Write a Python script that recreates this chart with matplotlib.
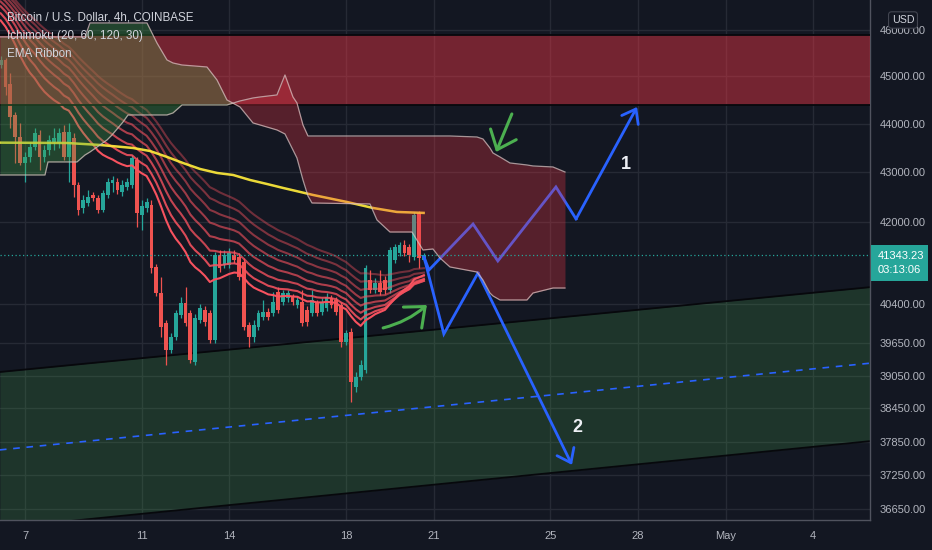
import numpy as np
import pandas as pd
import matplotlib
matplotlib.use("Agg")
import matplotlib.pyplot as plt
import matplotlib.ticker as mticker
from matplotlib import font_manager
from matplotlib.patches import Rectangle

# ---------------- fonts ----------------
_names = {f.name for f in font_manager.fontManager.ttflist}
NARROW = "Liberation Sans Narrow" in _names
UI_FONT = "Liberation Sans Narrow" if NARROW else "Liberation Sans"
FS = 9.5 if NARROW else 8.0
FS_LEG = 10.0 if NARROW else 8.4
plt.rcParams["font.family"] = [UI_FONT, "DejaVu Sans"]

# ---------------- data ----------------
candle_times = pd.date_range("2022-04-06 04:00", periods=88, freq="4h")
origin = pd.Timestamp("2022-04-07 00:00")

opens = [45244, 45352, 44840, 44185, 43726, 43191, 43314, 43520, 43768, 43314,
         43458, 43623, 43602, 43830, 43314, 43706, 42743, 42280, 42380, 42541,
         42480, 42240, 42541, 42783, 42804, 42602, 42703, 42743, 43252, 42140,
         42280, 42340, 41114, 40611, 40037, 39528, 39772, 40189, 40418, 40227,
         39304, 40094, 40284, 40227, 39716, 41348, 41153, 41153, 41348, 41309,
         41211, 39999, 39772, 39961, 40151, 40246, 40227, 40630, 40437, 40514,
         40534, 40380, 40437, 40284, 40227, 40418, 40246, 40322, 40514, 40476,
         40380, 39678, 39867, 38841, 39026, 39155, 40861, 40668, 40803, 40861,
         40668, 41250, 41387, 41545, 41505, 41309, 42180, 41250]
highs = [45440, 45395, 45073, 44248, 44018, 43417, 43623, 43914, 43872, 43561,
         43768, 43914, 43914, 43976, 44018, 43810, 42804, 42541, 42642, 42602,
         42541, 42642, 42885, 42926, 42885, 42844, 42885, 43355, 43314, 42440,
         42481, 42440, 41172, 40919, 40094, 39848, 40284, 40534, 40726, 40284,
         40208, 40399, 40360, 40284, 41407, 41446, 41446, 41486, 41446, 41387,
         41289, 40056, 40094, 40284, 40476, 40322, 40630, 40726, 40668, 40668,
         40591, 40553, 40668, 40360, 40668, 40476, 40514, 40611, 40572, 40534,
         40437, 39905, 39943, 39118, 39341, 41153, 41055, 40900, 41055, 40938,
         41505, 41564, 41604, 41643, 41564, 42200, 42220, 41387]
lows = [45180, 44606, 43914, 43191, 43150, 42803, 43211, 43458, 43048, 43211,
        43355, 43458, 43499, 43252, 42803, 42501, 42140, 42180, 42320, 42420,
        42180, 42200, 42480, 42602, 42561, 42521, 42642, 42683, 41900, 41841,
        42200, 40997, 40553, 39772, 39248, 39472, 39716, 40132, 39980, 39285,
        39248, 40037, 39980, 39659, 39659, 41016, 41094, 41094, 41192, 40861,
        39905, 39584, 39678, 39905, 40094, 40094, 40170, 40227, 40380, 40437,
        40380, 40322, 39980, 39980, 40170, 40170, 40189, 40265, 40322, 40189,
        39584, 39622, 38566, 38749, 38970, 39100, 40611, 40611, 40572, 40591,
        40611, 41192, 41328, 41328, 41211, 41250, 41094, 41211]
closes = [45352, 44776, 44143, 43726, 43191, 43314, 43520, 43810, 43314, 43458,
          43664, 43706, 43810, 43314, 43830, 42743, 42240, 42440, 42501, 42480,
          42240, 42581, 42804, 42844, 42642, 42743, 42804, 43293, 42180, 42320,
          42400, 41094, 40611, 39961, 39528, 39772, 40227, 40418, 40037, 39341,
          40132, 40322, 40056, 39716, 41348, 41094, 41348, 41387, 41250, 40919,
          39961, 39772, 39999, 40227, 40246, 40151, 40437, 40284, 40611, 40611,
          40437, 40476, 40037, 40056, 40476, 40227, 40418, 40534, 40380, 40246,
          39678, 39848, 38933, 39026, 39248, 41094, 40668, 40803, 40630, 40668,
          41446, 41505, 41545, 41387, 41348, 42140, 41289, 41343.23]

# EMA ribbon: periods and their values at the left edge of the view
ribbon_periods = [20, 25, 30, 35, 40, 45, 50, 55]
ribbon_start = [46300, 46450, 46600, 46700, 46800, 46880, 46950, 47000]

# slow yellow average, days since Apr 7
yellow_days = [-0.86, 1.44, 2.57, 3.70, 4.28, 4.87, 5.41, 6.00, 6.58, 7.13,
               7.71, 8.29, 8.84, 9.87, 11.03, 11.92, 12.74, 13.70]
yellow_vals = [43609, 43602, 43561, 43499, 43437, 43314, 43191, 43068, 42987, 42946,
               42844, 42763, 42683, 42541, 42400, 42280, 42200, 42180]

# Ichimoku leading spans (days since Apr 7)
cloud_days = [-0.856, 0.685, 0.788, 1.781, 2.056, 2.227, 2.809, 2.980, 3.357, 3.529,
              4.180, 4.522, 4.865, 5.070, 5.379, 6.235, 6.578, 6.920, 7.366, 7.811,
              8.051, 8.633, 8.907, 9.181, 9.318, 9.524, 9.695, 9.832, 11.819, 12.059,
              12.504, 13.258, 13.635, 13.977, 14.217, 14.560, 15.485, 15.690, 15.930, 16.033,
              16.273, 16.615, 17.198, 17.404, 18.089, 18.500]
lead_a = [45850, 45850, 45850, 45850, 45850, 46154, 46154, 46154, 46154, 46154,
          46154, 45718, 45352, 45287, 45244, 45201, 44924, 44500, 44353, 44018,
          43976, 43872, 43789, 43458, 43293, 42844, 42521, 42380, 42360, 42040,
          41801, 41801, 41446, 41466, 41289, 41114, 41016, 40861, 40610, 40553,
          40476, 40476, 40476, 40610, 40706, 40706]
lead_b = [42946, 42946, 43212, 43212, 43355, 43417, 43664, 43768, 44038, 44185,
          44185, 44185, 44185, 44227, 44395, 44395, 44395, 44395, 44479, 44542,
          44563, 44606, 45030, 44563, 44437, 43976, 43747, 43747, 43747, 43747,
          43747, 43747, 43747, 43747, 43747, 43747, 43726, 43685, 43499, 43396,
          43314, 43191, 43150, 43130, 43109, 43007]

# resistance zone (price range)
zone_low, zone_high = 44400, 45900

# parallel channel
chan_days = [-0.86, 29.02]
chan_upper = [39118, 40726]
chan_mid = [37700, 39285]
chan_lower = [36330, 37860]

# projected paths
path1_days = [13.67, 13.84, 15.35, 16.20, 18.19, 18.88, 20.97]
path1_vals = [41309, 41055, 41960, 41231, 42703, 42060, 44353]
path2_days = [13.67, 14.35, 15.52, 18.74]
path2_vals = [41309, 39829, 40997, 37433]

# hand-drawn green arrows: (from, to)
arrowA = ((16.68, 44206), (16.14, 43417))
arrowB = ((12.27, 39943), (13.77, 40380))

label_pts = {"1": (20.59, 43150), "2": (18.91, 38095)}

last_price = 41343.23
countdown = "03:13:06"

price_ticks = [46000, 45000, 44000, 43000, 42000, 40400, 39650, 39050, 38450, 37850, 37250, 36650]
date_ticks = [0, 4, 7, 11, 14, 18, 21, 24, 27]
date_labels = ["7", "11", "14", "18", "21", "25", "28", "May", "4"]

# ---------------- style ----------------
BG = "#131722"
GRID = "#262a35"
TXT = "#b2b5be"
UP = "#26a69a"
DN = "#ef5350"
BLUE = "#2962ff"
GREEN_ARROW = "#4caf50"

W, H = 932, 550
fig = plt.figure(figsize=(W / 100, H / 100), dpi=100, facecolor=BG)
ax = fig.add_axes([0, 30 / H, 870 / W, 520 / H])
ax.set_facecolor(BG)
ax.set_yscale("log")
ax.set_ylim(36468, 46659)
ax.set_xlim(-0.856, 28.95)

ax.yaxis.tick_right()
ax.set_yticks(price_ticks)
ax.set_yticklabels([f"{v:.2f}" for v in price_ticks])
ax.yaxis.set_minor_locator(mticker.NullLocator())
ax.yaxis.set_minor_formatter(mticker.NullFormatter())
ax.set_xticks(date_ticks)
ax.set_xticklabels(date_labels)
ax.tick_params(axis="both", length=0, labelcolor=TXT, labelsize=FS)
ax.tick_params(axis="y", pad=7)
ax.tick_params(axis="x", pad=8)
ax.grid(True, color=GRID, lw=1)
ax.set_axisbelow(True)
for s in ["top", "left"]:
    ax.spines[s].set_visible(False)
for s in ["right", "bottom"]:
    ax.spines[s].set_color("#50535e")
    ax.spines[s].set_linewidth(1)

# channel
ax.fill_between(chan_days, chan_lower, chan_upper, color="#4caf50", alpha=0.2, lw=0, zorder=1)
ax.plot(chan_days, chan_upper, color="#07080c", lw=1.3, zorder=1.2)
ax.plot(chan_days, chan_lower, color="#07080c", lw=1.3, zorder=1.2)
ax.plot(chan_days, chan_mid, color=BLUE, lw=1.2, ls=(0, (4, 4)), zorder=1.2)

# candles
cx = ((candle_times - origin) / pd.Timedelta(days=1)).values.astype(float)
o = np.array(opens, float); c = np.array(closes, float)
hi = np.array(highs, float); lo = np.array(lows, float)
col = np.where(c >= o, UP, DN)
ax.vlines(cx, lo, hi, colors=col, lw=0.9, zorder=2)
bb = np.minimum(o, c); bt = np.maximum(o, c)
ax.bar(cx, bt - bb, bottom=bb, width=0.13, color=col, lw=0, zorder=2.05)

# EMA ribbon
alphas = [1.0, 0.88, 0.78, 0.68, 0.6, 0.52, 0.46, 0.4]
for n, s0, al in zip(ribbon_periods, ribbon_start, alphas):
    k = 2.0 / (n + 1)
    e = s0
    vals = []
    for v in closes:
        e = e + k * (v - e)
        vals.append(e)
    ax.plot(cx, vals, color="#f7525f", alpha=al, lw=1.5, zorder=2.5)

# yellow average
ax.plot(yellow_days, yellow_vals, color="#ffeb3b", lw=1.8, alpha=0.92, zorder=2.6,
        solid_capstyle="butt")

# projected blue paths (under the cloud so they tint purple inside it)
for pd_, pv_ in ((path1_days, path1_vals), (path2_days, path2_vals)):
    ax.plot(pd_[:-1], pv_[:-1], color=BLUE, lw=2, zorder=2.7, solid_joinstyle="miter")
    ax.annotate("", xy=(pd_[-1], pv_[-1]), xytext=(pd_[-2], pv_[-2]),
                arrowprops=dict(arrowstyle="->,head_length=0.6,head_width=0.45", color=BLUE, lw=2,
                                shrinkA=0, shrinkB=0, mutation_scale=15), zorder=2.7)

# resistance zone
ax.axhspan(zone_low, zone_high, color="#f23645", alpha=0.44, lw=0, zorder=3)
ax.axhline(zone_low, color="#07080c", lw=1.3, zorder=3.1)
ax.axhline(zone_high, color="#07080c", lw=1.3, zorder=3.1)

# ichimoku cloud
la = np.array(lead_a, float); lb = np.array(lead_b, float)
ax.fill_between(cloud_days, la, lb, where=la >= lb, interpolate=True, color="#43a047",
                alpha=0.33, lw=0, zorder=4)
ax.fill_between(cloud_days, la, lb, where=la < lb, interpolate=True, color="#f23645",
                alpha=0.30, lw=0, zorder=4)
ax.plot(cloud_days, lead_a, color="#d8c0c0", lw=0.9, alpha=0.75, zorder=4.1)
ax.plot(cloud_days, lead_b, color="#d8c0c0", lw=0.9, alpha=0.75, zorder=4.1)

# last price line
ax.axhline(last_price, color=UP, lw=0.9, ls=(0, (1, 2)), zorder=4.5)

# green arrows
for (p0, p1), rad in ((arrowA, 0.0), (arrowB, 0.12)):
    ax.annotate("", xy=p1, xytext=p0,
                arrowprops=dict(arrowstyle="->,head_length=0.6,head_width=0.5", color=GREEN_ARROW,
                                lw=2.2, shrinkA=0, shrinkB=0, mutation_scale=20,
                                connectionstyle=f"arc3,rad={rad}"), zorder=5)

# numbered labels
for t, (dx, py) in label_pts.items():
    ax.text(dx, py, t, color="#eef0f5", fontsize=13, fontweight="bold", ha="center", va="center",
            zorder=6)

# legend texts (top-left)
fig.text(7 / W, 1 - 18 / H, "Bitcoin / U.S. Dollar, 4h, COINBASE", color="#d1d4dc",
         fontsize=FS_LEG, ha="left", va="center")
fig.text(7 / W, 1 - 36 / H, "Ichimoku (20, 60, 120, 30)", color="#d1d4dc",
         fontsize=FS_LEG, ha="left", va="center")
fig.text(7 / W, 1 - 54 / H, "EMA Ribbon", color="#d1d4dc",
         fontsize=FS_LEG, ha="left", va="center")

# price tag on the axis
fig.patches.append(Rectangle((871 / W, 1 - 281 / H), 57 / W, 36 / H, transform=fig.transFigure,
                             facecolor=UP, edgecolor="none", zorder=10))
fig.text(878 / W, 1 - 256 / H, f"{last_price:.2f}", color="white", fontsize=FS, ha="left",
         va="center", zorder=11)
fig.text(878 / W, 1 - 270 / H, countdown, color="white", fontsize=FS, ha="left",
         va="center", zorder=11)

# currency badge
fig.text(903 / W, 1 - 20 / H, "USD", color="#d1d4dc", fontsize=FS - 0.3, ha="center", va="center",
         zorder=12, bbox=dict(boxstyle="round,pad=0.3,rounding_size=0.3", fc=BG, ec="#434651", lw=0.8))

fig.savefig("out.png", dpi=100, facecolor=BG)
